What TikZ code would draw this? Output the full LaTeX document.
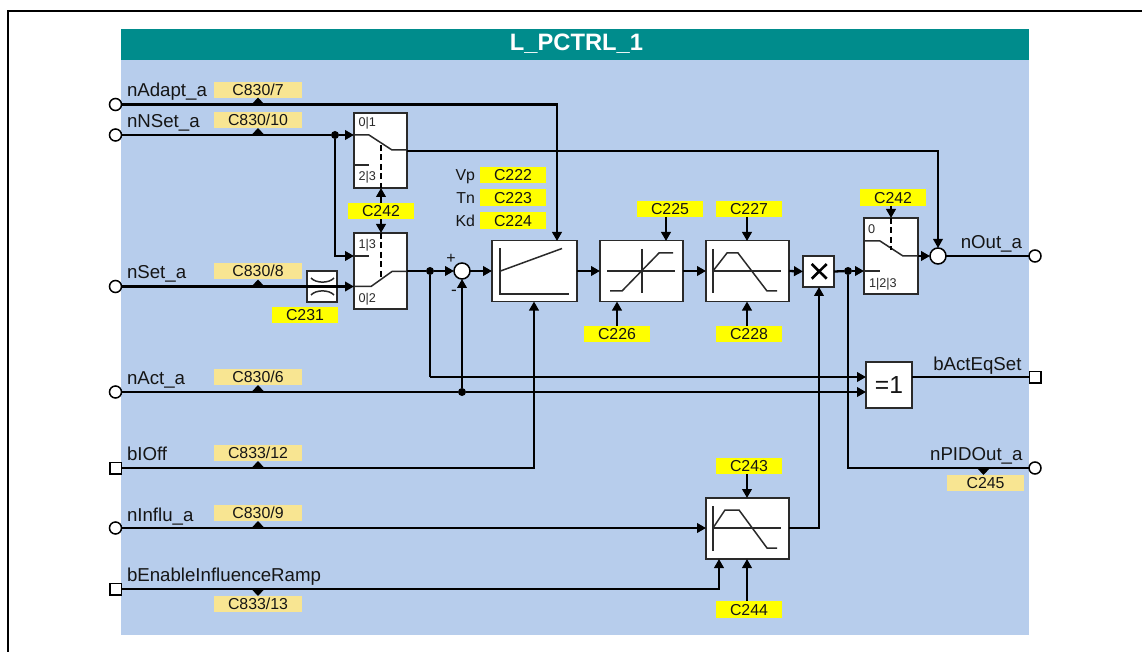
\documentclass[tikz,border=0pt]{standalone}
\usepackage{fontspec}
\setmainfont{Liberation Sans}
\usetikzlibrary{arrows.meta}
\def\pxu{0.75pt}
\definecolor{panelblue}{HTML}{B7CDEC}
\definecolor{headteal}{HTML}{008C8C}
\definecolor{tagpale}{HTML}{F8E592}
\definecolor{tagyellow}{HTML}{FFFF00}
\definecolor{inktext}{HTML}{151515}
\definecolor{boxline}{HTML}{2A2A2A}
\tikzset{
  x=0.75pt,y=-0.75pt,
  every node/.style={inner sep=0pt,outer sep=0pt,text=inktext},
  sig/.style={draw=black,line width=2.3*\pxu},
  thinsig/.style={draw=black,line width=1.7*\pxu},
  arr/.style={-{Triangle[length=9*\pxu,width=9.5*\pxu]}},
  inner line/.style={draw=boxline,line width=1.5*\pxu},
  dashline/.style={draw=black,line width=1.5*\pxu,dash pattern=on 6*\pxu off 3.5*\pxu},
  blockbox/.style={draw=boxline,fill=white,line width=1.8*\pxu},
  sumport/.style={circle,draw=black,fill=white,line width=1.5*\pxu,minimum size=16*\pxu},
  portc/.style={circle,draw=black,fill=white,line width=1.5*\pxu,minimum size=12*\pxu},
  ports/.style={rectangle,draw=black,fill=white,line width=1.5*\pxu,minimum size=11.5*\pxu},
  jdot/.style={circle,fill=black,minimum size=8*\pxu},
  tagbase/.style={font=\fontsize{11.9}{13}\selectfont,text height=8.6pt,text depth=0pt,align=center},
  paletag/.style={tagbase,fill=tagpale,minimum height=16.5*\pxu},
  yeltag/.style={tagbase,fill=tagyellow,minimum height=16.5*\pxu},
  siglabel/.style={font=\fontsize{14}{15}\selectfont},
  smalllabel/.style={font=\fontsize{9.5}{10}\selectfont,text=boxline},
}
\newcommand{\markup}[2]{\fill[black] (#1-6.5,#2)--(#1,#2-7)--(#1+6.5,#2)--cycle;}
\newcommand{\markdown}[2]{\fill[black] (#1-6.5,#2)--(#1,#2+7)--(#1+6.5,#2)--cycle;}
\begin{document}
\begin{tikzpicture}
\useasboundingbox (0,0) rectangle (1142,652);
% frame and panel
\draw[black,line width=2*\pxu] (8,652) -- (8,11) -- (1142,11);
\fill[panelblue] (121,60) rectangle (1029,635);
\fill[headteal] (121,29) rectangle (1029,60);
\node[text=white,font=\bfseries\fontsize{17.8}{19}\selectfont] (title) at (576.5,43.5) {L\_PCTRL\_1};

% ports
\node[portc] (nAdapt) at (115.5,104.5) {};
\node[portc] (nNSet) at (115.5,135) {};
\node[portc] (nSet) at (115.5,286.5) {};
\node[portc] (nAct) at (115.5,392) {};
\node[ports] (bIOff) at (115.5,468) {};
\node[portc] (nInflu) at (115.5,528) {};
\node[ports] (bEnable) at (115.5,589) {};
\node[portc] (nOut) at (1035,256) {};
\node[ports] (bActEq) at (1035,377) {};
\node[portc] (nPID) at (1035,468) {};

% port labels
\node[siglabel,anchor=base west] (lAdapt) at (127,97) {nAdapt\_a};
\node[siglabel,anchor=base west] (lNSet) at (127,127.3) {nNSet\_a};
\node[siglabel,anchor=base west] (lSet) at (127,278.5) {nSet\_a};
\node[siglabel,anchor=base west] (lAct) at (127,384.5) {nAct\_a};
\node[siglabel,anchor=base west] (lOff) at (127,460) {bIOff};
\node[siglabel,anchor=base west] (lInflu) at (127,521) {nInflu\_a};
\node[siglabel,anchor=base west] (lEnable) at (127,581.7) {bEnableInfluenceRamp};
\node[siglabel,anchor=base east] (lOut) at (1022,248.5) {nOut\_a};
\node[siglabel,anchor=base east] (lEq) at (1021.5,370) {bActEqSet};
\node[siglabel,anchor=base east] (lPID) at (1022.5,460) {nPIDOut\_a};

% blocks
\node[blockbox,minimum width=53*\pxu,minimum height=75*\pxu] (sw1) at (380.5,150.5) {};
\node[blockbox,minimum width=53*\pxu,minimum height=76*\pxu] (sw2) at (380.5,271) {};
\node[blockbox,minimum width=54*\pxu,minimum height=76*\pxu] (sw3) at (891,256) {};
\node[blockbox,minimum width=85*\pxu,minimum height=61*\pxu] (pid) at (534.5,271) {};
\node[blockbox,minimum width=83*\pxu,minimum height=61*\pxu] (lim) at (641.5,271) {};
\node[blockbox,minimum width=83*\pxu,minimum height=61*\pxu] (ramp) at (747.5,271) {};
\node[blockbox,minimum width=83*\pxu,minimum height=61*\pxu] (rampb) at (747.5,528.5) {};
\node[blockbox,minimum width=31*\pxu,minimum height=31*\pxu] (mul) at (818.5,271.5) {};
\node[blockbox,minimum width=46*\pxu,minimum height=46*\pxu,font=\fontsize{18.5}{20}\selectfont] (xor) at (889,385) {=1};
\node[blockbox,minimum width=30.5*\pxu,minimum height=30.5*\pxu] (filt) at (322,286.5) {};
\node[sumport] (sum1) at (462,271) {};
\node[sumport] (sum2) at (938,256) {};

% junctions
\node[jdot] (j1) at (335,135) {};
\node[jdot] (j2) at (430,271) {};
\node[jdot] (j3) at (462,392) {};
\node[jdot] (j4) at (848,271) {};

% entry points on blocks
\coordinate (sw1in) at (354,135);
\coordinate (sw1out) at (407,151);
\coordinate (sw2inA) at (354,256);
\coordinate (sw2inB) at (354,286.5);
\coordinate (sw2out) at (407,271);
\coordinate (sw3in) at (864,271);
\coordinate (sw3out) at (918,256);
\coordinate (xorA) at (866,377);
\coordinate (xorB) at (866,392);
\coordinate (xorOut) at (912,377);
\coordinate (pidAdapt) at (557,241);
\coordinate (cornerAdapt) at (557,104.5);
\coordinate (pidOff) at (534,301.5);
\coordinate (cornerOff) at (534,468);
\coordinate (cornerBranch) at (335,256);
\coordinate (cornerFb) at (430,377);
\coordinate (cornerOut) at (938,151);
\coordinate (cornerPID) at (848,468);
\coordinate (cornerMul) at (819,528);
\coordinate (mulIn) at (819,287);
\coordinate (rampbIn) at (706,528);
\coordinate (rampbOut) at (789,528);
\coordinate (rampbEn) at (719,559);
\coordinate (cornerEn) at (719,589);

% connectors
\draw[sig,arr] (nAdapt.east) -- (cornerAdapt) -- (pidAdapt);
\draw[sig] (nNSet.east) -- (j1);
\draw[sig,arr] (j1) -- (sw1in);
\draw[sig,arr] (j1) -- (cornerBranch) -- (sw2inA);
\draw[sig,arr] (nSet.east) -- (sw2inB);
\draw[sig] (sw2out) -- (j2);
\draw[sig,arr] (j2) -- (sum1.west);
\draw[sig,arr] (sum1.east) -- (pid.west);
\draw[sig] (j2) -- (cornerFb);
\draw[sig,arr] (cornerFb) -- (xorA);
\draw[sig] (nAct.east) -- (j3);
\draw[sig,arr] (j3) -- (xorB);
\draw[sig,arr] (j3) -- (sum1.south);
\draw[sig,arr] (bIOff.east) -- (cornerOff) -- (pidOff);
\draw[sig,arr] (nInflu.east) -- (rampbIn);
\draw[sig,arr] (bEnable.east) -- (cornerEn) -- (rampbEn);
\draw[sig,arr] (pid.east) -- (lim.west);
\draw[sig,arr] (lim.east) -- (ramp.west);
\draw[sig,arr] (ramp.east) -- (mul.west);
\draw[sig] (mul.east) -- (j4);
\draw[sig,arr] (j4) -- (sw3in);
\draw[sig] (j4) -- (cornerPID) -- (nPID.west);
\draw[sig,arr] (rampbOut) -- (cornerMul) -- (mulIn);
\draw[sig,arr] (sw3out) -- (sum2.west);
\draw[thinsig,arr] (sw1out) -- (cornerOut) -- (sum2.north);
\draw[thinsig] (sum2.east) -- (nOut.west);
\draw[thinsig] (xorOut) -- (bActEq.west);

% tags
\node[paletag,minimum width=88*\pxu] (t1) at (258,90) {C830/7};
\node[paletag,minimum width=88*\pxu] (t2) at (258,120) {C830/10};
\node[paletag,minimum width=88*\pxu] (t3) at (258,271) {C830/8};
\node[paletag,minimum width=88*\pxu] (t4) at (258,377) {C830/6};
\node[paletag,minimum width=88*\pxu] (t5) at (258,453) {C833/12};
\node[paletag,minimum width=88*\pxu] (t6) at (258,513) {C830/9};
\node[paletag,minimum width=88*\pxu] (t7) at (258,604) {C833/13};
\node[paletag,minimum width=77*\pxu] (t8) at (985.5,483) {C245};
\markup{258}{104.5}
\markup{258}{135}
\markup{258}{286.5}
\markup{258}{392}
\markup{258}{468}
\markup{258}{528}
\markdown{258}{589}
\markdown{983.5}{468}

\node[yeltag,minimum width=66*\pxu] (y231) at (305,315) {C231};
\node[yeltag,minimum width=66*\pxu] (y242a) at (381,211) {C242};
\node[yeltag,minimum width=66*\pxu] (y242b) at (893,197.5) {C242};
\node[yeltag,minimum width=66*\pxu] (y222) at (513,175) {C222};
\node[yeltag,minimum width=66*\pxu] (y223) at (513,197.5) {C223};
\node[yeltag,minimum width=66*\pxu] (y224) at (513,220.5) {C224};
\node[yeltag,minimum width=66*\pxu] (y225) at (670,209) {C225};
\node[yeltag,minimum width=66*\pxu] (y226) at (617,334) {C226};
\node[yeltag,minimum width=66*\pxu] (y227) at (749,209) {C227};
\node[yeltag,minimum width=66*\pxu] (y228) at (749,334) {C228};
\node[yeltag,minimum width=66*\pxu] (y243) at (749,466) {C243};
\node[yeltag,minimum width=66*\pxu] (y244) at (749,609.5) {C244};
\node[anchor=east,font=\fontsize{11.9}{13}\selectfont,text height=8.6pt,text depth=0pt] (lVp) at (475,175) {Vp};
\node[anchor=east,font=\fontsize{11.9}{13}\selectfont,text height=8.6pt,text depth=0pt] (lTn) at (475,197.5) {Tn};
\node[anchor=east,font=\fontsize{11.9}{13}\selectfont,text height=8.6pt,text depth=0pt] (lKd) at (475,220.5) {Kd};

% tag arrows
\coordinate (a242a) at (381,188);
\coordinate (a242b) at (381,233);
\coordinate (f242a) at (381,202.7);
\coordinate (f242b) at (381,219.3);
\coordinate (f242c) at (891,206);
\coordinate (a242c) at (891,218);
\coordinate (f225) at (666,217);
\coordinate (a225) at (666,241);
\coordinate (f226) at (617,326);
\coordinate (a226) at (617,301.5);
\coordinate (f227) at (747,217);
\coordinate (a227) at (747,241);
\coordinate (f228) at (747,326);
\coordinate (a228) at (747,301.5);
\coordinate (f243) at (747,474);
\coordinate (a243) at (747,498);
\coordinate (f244) at (747,601);
\coordinate (a244) at (747,559);
\draw[sig,arr] (f242a) -- (a242a);
\draw[sig,arr] (f242b) -- (a242b);
\draw[sig,arr] (f242c) -- (a242c);
\draw[sig,arr] (f225) -- (a225);
\draw[sig,arr] (f226) -- (a226);
\draw[sig,arr] (f227) -- (a227);
\draw[sig,arr] (f228) -- (a228);
\draw[sig,arr] (f243) -- (a243);
\draw[sig,arr] (f244) -- (a244);

% signs
\node[font=\fontsize{12}{13}\selectfont] (plus) at (451,259) {+};
\node[font=\fontsize{13}{14}\selectfont] (minus) at (454,293) {-};

% switch 1 interior
\draw[inner line] (354,135) -- (369,135) -- (392,150) -- (407,150);
\draw[inner line] (354,165) -- (369,165);
\draw[dashline] (381,145) -- (381,188);
\node[smalllabel,anchor=base west] (s1a) at (358.5,127) {0|1};
\node[smalllabel,anchor=base west] (s1b) at (358.5,181) {2|3};
% switch 2 interior
\draw[inner line] (354,286.5) -- (371,286.5) -- (392,271.5) -- (407,271.5);
\draw[inner line] (354,256) -- (369,256);
\draw[dashline] (381,233) -- (381,278);
\node[smalllabel,anchor=base west] (s2a) at (358.5,249) {1|3};
\node[smalllabel,anchor=base west] (s2b) at (358.5,302) {0|2};
% switch 3 interior
\draw[inner line] (864,241) -- (880,241) -- (903,256) -- (918,256);
\draw[inner line] (864,271) -- (880,271);
\draw[dashline] (891,218) -- (891,250);
\node[smalllabel,anchor=base west] (s3a) at (868,234) {0};
\node[smalllabel,anchor=base west] (s3b) at (869,287) {1|2|3};

% filter symbol
\draw[inner line] (311,278) .. controls (316,283.5) and (329,283.5) .. (334,278);
\draw[inner line] (311,295) .. controls (316,289.5) and (329,289.5) .. (334,295);

% PID graph
\draw[inner line] (500,248.5) -- (500,294) -- (569,294);
\draw[inner line] (500.5,271) -- (562,248.5);
% limiter graph
\draw[inner line] (607,271) -- (675,271);
\draw[inner line] (642,249) -- (642,293);
\draw[inner line] (610,291) -- (622,291) -- (659,253) -- (673,253);
% ramp graph
\draw[inner line] (713,249) -- (713,293);
\draw[inner line] (713,271) -- (781,271);
\draw[inner line] (713,271) -- (727,253) -- (738,253) -- (767,291) -- (777,291);
% lower ramp graph
\draw[inner line] (713,506) -- (713,551);
\draw[inner line] (713,528) -- (781,528);
\draw[inner line] (713,528) -- (725,510) -- (739,510) -- (767,548) -- (777,548);
% multiply sign
\draw[black,line width=2.6*\pxu] (811.7,264) -- (826.7,278.7) (826.7,264) -- (811.7,278.7);
\end{tikzpicture}
\end{document}
